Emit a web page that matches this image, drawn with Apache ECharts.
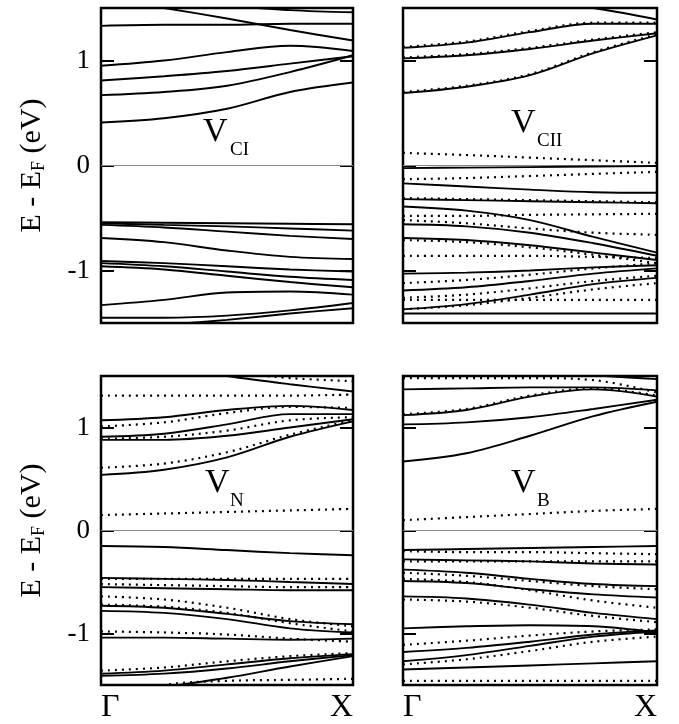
<!DOCTYPE html>
<html>
<head>
<meta charset="utf-8">
<title>Defect bands</title>
<script src="https://cdn.jsdelivr.net/npm/echarts@6/dist/echarts.min.js"></script>
<style>
html, body { margin: 0; padding: 0; background: #fff; }
#main { width: 679px; height: 724px; }
</style>
</head>
<body>
<div id="main"></div>
<script>
// k points along Gamma -> X, energies in eV relative to E_F
var kPts = [0, 0.25, 0.5, 0.75, 1];
var kLabels = ['Γ', 'X'];
var yTicks = [-1, 0, 1];

// V_CI (one channel only)
var solidCI = [
  [0.41, 0.45, 0.54, 0.70, 0.79],
  [0.67, 0.70, 0.76, 0.89, 1.05],
  [0.81, 0.85, 0.90, 0.97, 1.04],
  [0.95, 1.00, 1.08, 1.14, 1.09],
  [1.33, 1.34, 1.34, 1.35, 1.35],
  [1.60, 1.50, 1.40, 1.29, 1.19],
  [1.75, 1.65, 1.53, 1.48, 1.46],
  [-0.54, -0.545, -0.55, -0.555, -0.56],
  [-0.55, -0.565, -0.58, -0.60, -0.62],
  [-0.565, -0.59, -0.63, -0.67, -0.70],
  [-0.69, -0.73, -0.81, -0.87, -0.89],
  [-0.91, -0.93, -0.96, -0.99, -1.01],
  [-0.93, -0.96, -1.01, -1.06, -1.09],
  [-0.96, -0.99, -1.05, -1.11, -1.16],
  [-1.33, -1.28, -1.21, -1.20, -1.23],
  [-1.45, -1.45, -1.43, -1.38, -1.31],
  [-1.58, -1.52, -1.47, -1.41, -1.36]
];
var dottedCI = [];

// V_CII
var solidCII = [
  [0.69, 0.75, 0.86, 1.07, 1.24],
  [1.02, 1.05, 1.11, 1.19, 1.26],
  [1.12, 1.17, 1.27, 1.35, 1.35],
  [1.62, 1.60, 1.57, 1.50, 1.39],
  [-0.025, -0.02, -0.015, -0.01, -0.005],
  [-0.17, -0.20, -0.23, -0.255, -0.26],
  [-0.32, -0.33, -0.34, -0.35, -0.36],
  [-0.39, -0.43, -0.52, -0.68, -0.83],
  [-0.56, -0.58, -0.64, -0.74, -0.86],
  [-0.69, -0.71, -0.76, -0.83, -0.90],
  [-1.03, -1.02, -1.00, -0.97, -0.95],
  [-1.19, -1.16, -1.10, -1.03, -0.98],
  [-1.37, -1.32, -1.23, -1.13, -1.07],
  [-1.41, -1.41, -1.41, -1.41, -1.41]
];
var dottedCII = [
  [0.70, 0.76, 0.87, 1.08, 1.25],
  [1.03, 1.06, 1.12, 1.20, 1.27],
  [1.13, 1.18, 1.28, 1.36, 1.36],
  [0.12, 0.10, 0.075, 0.05, 0.025],
  [-0.13, -0.12, -0.10, -0.08, -0.06],
  [-0.31, -0.32, -0.33, -0.34, -0.35],
  [-0.48, -0.48, -0.47, -0.465, -0.46],
  [-0.52, -0.55, -0.60, -0.64, -0.66],
  [-0.71, -0.73, -0.78, -0.85, -0.93],
  [-0.86, -0.86, -0.86, -0.87, -0.88],
  [-1.12, -1.09, -1.04, -0.98, -0.93],
  [-1.26, -1.23, -1.17, -1.10, -1.05],
  [-1.28, -1.28, -1.28, -1.28, -1.28],
  [-1.37, -1.33, -1.26, -1.18, -1.12]
];

// V_N
var solidN = [
  [0.54, 0.59, 0.71, 0.91, 1.06],
  [0.88, 0.88, 0.92, 1.00, 1.08],
  [0.91, 0.94, 1.03, 1.13, 1.13],
  [1.07, 1.10, 1.17, 1.21, 1.17],
  [1.68, 1.60, 1.50, 1.42, 1.35],
  [-0.15, -0.16, -0.19, -0.22, -0.24],
  [-0.46, -0.47, -0.48, -0.50, -0.52],
  [-0.55, -0.56, -0.57, -0.58, -0.58],
  [-0.73, -0.75, -0.81, -0.88, -0.91],
  [-0.78, -0.80, -0.86, -0.95, -0.99],
  [-1.04, -1.04, -1.05, -1.06, -1.05],
  [-1.39, -1.36, -1.30, -1.24, -1.20],
  [-1.41, -1.39, -1.34, -1.27, -1.21],
  [-1.60, -1.52, -1.43, -1.32, -1.22]
];
var dottedN = [
  [0.61, 0.65, 0.76, 0.93, 1.07],
  [0.89, 0.91, 0.97, 1.07, 1.10],
  [1.01, 1.05, 1.14, 1.20, 1.19],
  [1.31, 1.31, 1.31, 1.31, 1.32],
  [1.70, 1.62, 1.54, 1.48, 1.45],
  [0.15, 0.165, 0.18, 0.195, 0.21],
  [-0.47, -0.47, -0.47, -0.47, -0.47],
  [-0.52, -0.53, -0.54, -0.55, -0.55],
  [-0.64, -0.67, -0.75, -0.86, -0.93],
  [-0.72, -0.74, -0.80, -0.90, -0.98],
  [-0.98, -0.99, -1.01, -1.05, -1.08],
  [-1.36, -1.33, -1.27, -1.22, -1.19],
  [-1.65, -1.50, -1.46, -1.45, -1.44]
];

// V_B
var solidB = [
  [0.67, 0.75, 0.92, 1.11, 1.25],
  [1.03, 1.05, 1.10, 1.18, 1.27],
  [1.12, 1.17, 1.30, 1.37, 1.30],
  [1.37, 1.38, 1.39, 1.39, 1.36],
  [1.70, 1.65, 1.58, 1.51, 1.47],
  [-0.19, -0.18, -0.17, -0.16, -0.15],
  [-0.28, -0.29, -0.30, -0.32, -0.33],
  [-0.38, -0.41, -0.47, -0.52, -0.54],
  [-0.49, -0.51, -0.57, -0.62, -0.65],
  [-0.64, -0.66, -0.72, -0.80, -0.86],
  [-0.95, -0.93, -0.92, -0.93, -0.99],
  [-1.18, -1.14, -1.08, -1.01, -0.97],
  [-1.27, -1.21, -1.12, -1.03, -0.98],
  [-1.35, -1.33, -1.31, -1.29, -1.27]
];
var dottedB = [
  [1.48, 1.48, 1.48, 1.46, 1.34],
  [1.13, 1.18, 1.31, 1.38, 1.31],
  [0.10, 0.13, 0.16, 0.19, 0.21],
  [-0.20, -0.21, -0.21, -0.22, -0.23],
  [-0.30, -0.30, -0.30, -0.30, -0.30],
  [-0.41, -0.44, -0.49, -0.54, -0.57],
  [-0.47, -0.50, -0.58, -0.68, -0.75],
  [-0.67, -0.69, -0.75, -0.83, -0.89],
  [-1.11, -1.07, -1.02, -0.98, -0.96],
  [-1.30, -1.25, -1.17, -1.08, -1.03],
  [-1.46, -1.46, -1.46, -1.46, -1.46]
];

var panels = [
  { solid: solidCI, dotted: dottedCI, main: 'V', sub: 'CI' },
  { solid: solidCII, dotted: dottedCII, main: 'V', sub: 'CII' },
  { solid: solidN, dotted: dottedN, main: 'V', sub: 'N' },
  { solid: solidB, dotted: dottedB, main: 'V', sub: 'B' }
];

var serif = 'Liberation Serif';
var boxes = [
  { left: 101, top: 8, width: 252, height: 315 },
  { left: 403, top: 8, width: 254, height: 315 },
  { left: 101, top: 376, width: 252, height: 315 },
  { left: 403, top: 376, width: 254, height: 315 }
];
// where the panel names sit (left edge of V, its middle, left edge of subscript, its middle)
var namePos = [
  [203, 132, 230, 151],
  [511, 123, 537, 142],
  [205, 483, 230, 502],
  [511, 483, 537, 502]
];

var grids = [], xAxes = [], yAxes = [], series = [], graphics = [];

function bandSeries(i, band, dotted) {
  return {
    type: 'line', xAxisIndex: i, yAxisIndex: 2 * i,
    smooth: 0.35, symbol: 'none', silent: true,
    data: band.map(function (e, j) { return [kPts[j], e]; }),
    lineStyle: dotted
      ? { color: '#000', width: 2.2, type: [2, 5] }
      : { color: '#000', width: 1.9 }
  };
}

panels.forEach(function (p, i) {
  var b = boxes[i];
  var isLeft = (i % 2 === 0), isBottom = (i >= 2);
  grids.push({
    left: b.left, top: b.top, width: b.width, height: b.height,
    show: true, borderColor: '#000', borderWidth: 2.5, containLabel: false
  });
  xAxes.push({
    gridIndex: i, type: 'value', min: 0, max: 1,
    axisLine: { show: false }, axisTick: { show: false }, splitLine: { show: false },
    axisLabel: {
      show: isBottom, customValues: [0, 1],
      formatter: function (v) { return v === 0 ? kLabels[0] : kLabels[1]; },
      fontFamily: serif, fontSize: 32, color: '#000', margin: 7,
      alignMinLabel: 'left', alignMaxLabel: 'right'
    }
  });
  var yCommon = {
    gridIndex: i, type: 'value', min: -1.5, max: 1.5,
    axisLine: { show: false }, splitLine: { show: false },
    axisTick: { show: true, inside: true, length: 13, customValues: yTicks,
      lineStyle: { color: '#000', width: 2 } }
  };
  yAxes.push(Object.assign({}, yCommon, {
    position: 'left',
    axisLabel: { show: isLeft, customValues: yTicks, fontFamily: serif, fontSize: 27,
      color: '#000', margin: 11 },
    name: isLeft ? '{a|E - E}{b|F}{a| (eV)}' : '',
    nameLocation: 'middle', nameGap: 53,
    nameTextStyle: { fontFamily: serif, color: '#000', fontSize: 30,
      rich: { a: { fontFamily: serif, fontSize: 30, lineHeight: 32 },
              b: { fontFamily: serif, fontSize: 18, verticalAlign: 'bottom', lineHeight: 32 } } }
  }));
  yAxes.push(Object.assign({}, yCommon, { position: 'right', axisLabel: { show: false } }));

  // Fermi level
  series.push({
    type: 'line', xAxisIndex: i, yAxisIndex: 2 * i, symbol: 'none', silent: true,
    data: [[0, 0], [1, 0]], lineStyle: { color: '#888', width: 1 }
  });
  p.solid.forEach(function (band) { series.push(bandSeries(i, band, false)); });
  p.dotted.forEach(function (band) { series.push(bandSeries(i, band, true)); });

  var np = namePos[i];
  graphics.push({ type: 'text', left: np[0], top: np[1] - 17, z: 100,
    style: { text: p.main, fontFamily: serif, fontSize: 34, fill: '#000' } });
  graphics.push({ type: 'text', left: np[2], top: np[3] - 10, z: 100,
    style: { text: p.sub, fontFamily: serif, fontSize: 19, fill: '#000' } });
});

var chart = echarts.init(document.getElementById('main'), null, { renderer: 'canvas' });
chart.setOption({
  animation: false,
  backgroundColor: '#fff',
  grid: grids,
  xAxis: xAxes,
  yAxis: yAxes,
  series: series,
  graphic: graphics
});
</script>
</body>
</html>
